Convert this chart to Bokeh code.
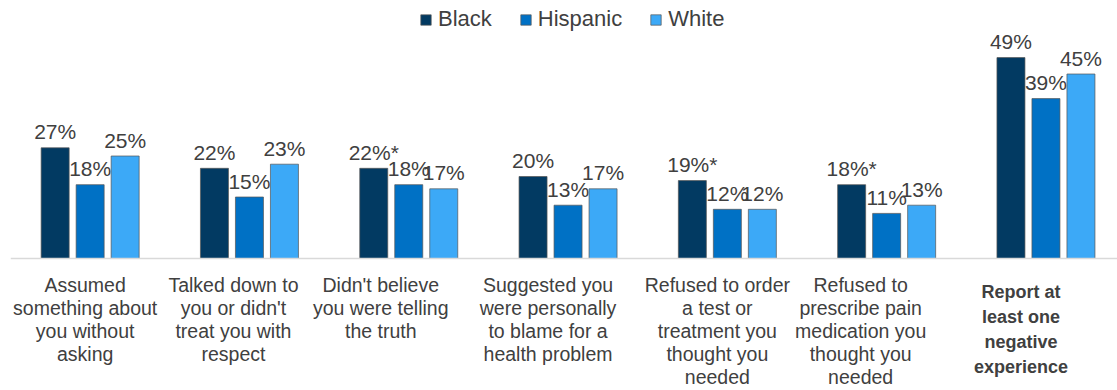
from bokeh.plotting import figure
from bokeh.models import Range1d, Span, Legend, LegendItem
from bokeh.core.properties import value
from bokeh.embed import file_html
from bokeh.resources import INLINE

# ---- data ----
categories = [
    "Assumed\nsomething about\nyou without\nasking",
    "Talked down to\nyou or didn't\ntreat you with\nrespect",
    "Didn't believe\nyou were telling\nthe truth",
    "Suggested you\nwere personally\nto blame for a\nhealth problem",
    "Refused to order\na test or\ntreatment you\nthought you\nneeded",
    "Refused to\nprescribe pain\nmedication you\nthought you\nneeded",
    "Report at\nleast one\nnegative\nexperience",
]
series_names = ["Black", "Hispanic", "White"]
black = [27, 22, 22, 20, 19, 18, 49]
hispanic = [18, 15, 18, 13, 12, 11, 39]
white = [25, 23, 17, 17, 12, 13, 45]
black_marks = ["", "", "*", "", "*", "*", ""]

# ---- layout / style constants ----
W, H = 1117, 390
LEFT = 10
PITCH = 159.3          # px per category
PX_PER_PCT = 4.1
BASE_PX = 258          # baseline from top
BAR_W = 28
BAR_STEP = 35
colors = ["#023a62", "#0071c5", "#3ca9f7"]
TEXT_COL = "#404040"
FONT = "Liberation Sans"
label_dx = [-5, -16, -28, -20, -10, -26, -25]   # px shift of category captions

frame_w = W - LEFT
p = figure(width=W, height=H, output_backend="svg", toolbar_location=None,
           x_range=Range1d(0, frame_w / PITCH),
           y_range=Range1d(-(H - BASE_PX) / PX_PER_PCT, BASE_PX / PX_PER_PCT),
           x_axis_type=None, y_axis_type=None,
           min_border_left=LEFT, min_border_right=0,
           min_border_top=0, min_border_bottom=0)
p.outline_line_color = None
p.background_fill_color = "white"
p.border_fill_color = "white"

p.add_layout(Span(location=0, dimension="width", line_color="#d9d9d9", line_width=1.5))

n = len(categories)
centers = [i + 0.5 for i in range(n)]
series = [black, hispanic, white]
renderers = []
for k, vals in enumerate(series):
    xs = [c + (k - 1) * BAR_STEP / PITCH for c in centers]
    r = p.vbar(x=xs, top=vals, bottom=0, width=BAR_W / PITCH,
               fill_color=colors[k], line_color="#555555", line_alpha=0.7, line_width=1)
    renderers.append(r)
    if k == 0:
        labels = [f"{v}%{m}" for v, m in zip(vals, black_marks)]
    else:
        labels = [f"{v}%" for v in vals]
    p.text(x=xs, y=vals, text=labels, text_align="center", text_baseline="alphabetic",
           y_offset=-16, text_font=value(FONT), text_font_size="21px", text_color=TEXT_COL)

cap_x = [c + d / PITCH for c, d in zip(centers, label_dx)]
p.text(x=cap_x[:-1], y=[0] * (n - 1), text=categories[:-1], text_align="center",
       text_baseline="top", y_offset=15, text_line_height=1.055,
       text_font=value(FONT), text_font_size="19.5px", text_color=TEXT_COL)
p.text(x=cap_x[-1:], y=[0], text=categories[-1:], text_align="center",
       text_baseline="top", y_offset=23, text_line_height=1.25,
       text_font=value(FONT), text_font_size="18px", text_font_style="bold",
       text_color=TEXT_COL)

legend = Legend(items=[LegendItem(label=nm, renderers=[r]) for nm, r in zip(series_names, renderers)],
                location=(409, 358), orientation="horizontal",
                glyph_width=13, glyph_height=13, label_standoff=6, spacing=27,
                label_text_font=FONT, label_text_font_size="22px", label_text_color=TEXT_COL,
                label_height=22, padding=0, margin=0,
                border_line_color=None, background_fill_alpha=0)
p.add_layout(legend)

open("out.html", "w").write(file_html(p, INLINE))
